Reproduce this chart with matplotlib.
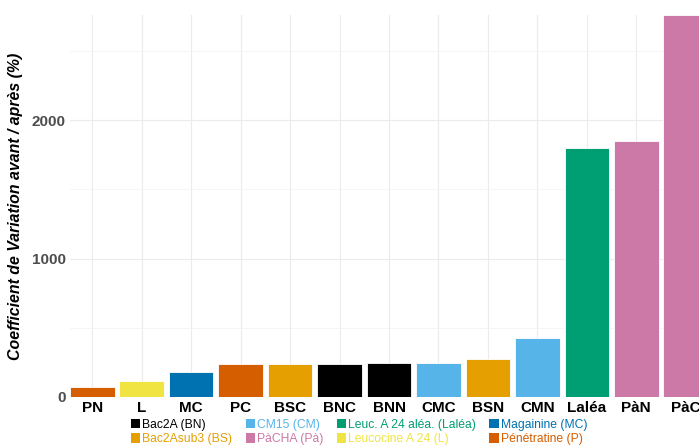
import matplotlib.pyplot as plt
from matplotlib.patches import Patch

plt.rcParams['font.family'] = ['Liberation Sans', 'DejaVu Sans']

# données : coefficient de variation par construction
etiquettes = ['PN', 'L', 'MC', 'PC', 'BSC', 'BNC', 'BNN', 'CMC', 'BSN', 'CMN', 'Laléa', 'PàN', 'PàC']
valeurs = [74, 118, 178, 236, 237, 240, 248, 245, 277, 426, 1801, 1852, 2760]
groupes = ['P', 'L', 'MC', 'P', 'BS', 'BN', 'BN', 'CM', 'BS', 'CM', 'Laléa', 'Pà', 'Pà']

noms_groupes = ['BN', 'BS', 'CM', 'Pà', 'Laléa', 'L', 'MC', 'P']
legendes = ['Bac2A (BN)', 'Bac2Asub3 (BS)', 'CM15 (CM)', 'PàCHA (Pà)',
            'Leuc. A 24 aléa. (Laléa)', 'Leucocine A 24 (L)', 'Magainine (MC)', 'Pénétratine (P)']
couleurs = {'BN': '#000000', 'BS': '#E69F00', 'CM': '#56B4E9', 'Pà': '#CC79A7',
            'Laléa': '#009E73', 'L': '#F0E442', 'MC': '#0072B2', 'P': '#D55E00'}

fig = plt.figure(figsize=(6.99, 4.46), dpi=100)
ax = fig.add_axes([70 / 699, 49 / 446, 638 / 699, 382 / 446])

x = range(len(etiquettes))
ax.bar(x, valeurs, width=0.9, color=[couleurs[g] for g in groupes],
       edgecolor='white', linewidth=0.6, zorder=3)

ax.set_xlim(-0.45, len(etiquettes) - 0.55)
ax.set_ylim(0, max(valeurs))
ax.set_xticks(list(x))
ax.set_xticklabels(etiquettes, fontsize=11, fontweight='bold', color='black')
ax.set_yticks([0, 1000, 2000])
ax.set_yticks([500, 1500, 2500], minor=True)
ax.tick_params(axis='y', labelsize=11, labelcolor='#4D4D4D', length=0, pad=3)
ax.tick_params(axis='y', which='minor', length=0)
ax.tick_params(axis='x', length=0, pad=3)
for lab in ax.get_yticklabels():
    lab.set_fontweight('bold')

ax.grid(True, which='major', color='#EBEBEB', linewidth=0.8, zorder=0)
ax.grid(True, which='minor', axis='y', color='#F2F2F2', linewidth=0.5, zorder=0)
for s in ax.spines.values():
    s.set_visible(False)

ax.set_ylabel('Coefficient de Variation avant / après (%)', fontsize=11.4,
              fontweight='bold', style='italic')
ax.yaxis.set_label_coords(-0.074, 0.5)

poignees = [Patch(facecolor=couleurs[g], edgecolor='none') for g in noms_groupes]
leg = fig.legend(poignees, legendes, ncol=4, loc='center', bbox_to_anchor=(359 / 699, 14 / 446),
                 frameon=False, fontsize=8.7, handlelength=0.8, handleheight=0.8,
                 handletextpad=0.15, columnspacing=1.1, labelspacing=0.2, borderpad=0)
for txt, g in zip(leg.get_texts(), noms_groupes):
    txt.set_color(couleurs[g])

fig.savefig('out.png', dpi=100)
